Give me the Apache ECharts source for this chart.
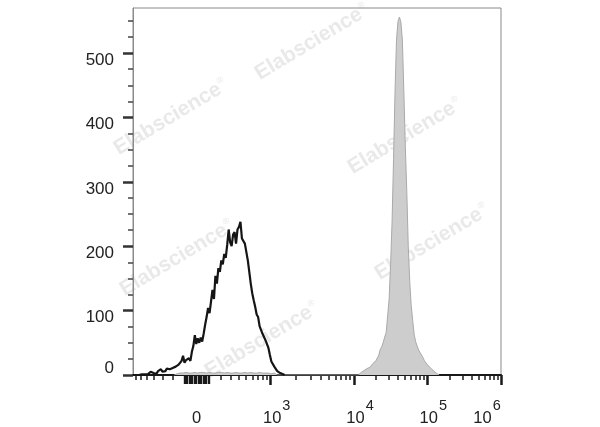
<!DOCTYPE html>
<html><head><meta charset="utf-8">
<script src="https://cdn.jsdelivr.net/npm/echarts@6/dist/echarts.min.js"></script>
<style>html,body{margin:0;padding:0;background:#fff}#c{width:600px;height:427px}</style>
</head><body><div id="c"></div>
<script>
// ---- axis setup (display channels 0..1000 on a logicle-like scale) ----
const xMin = 0, xMax = 1000;
const yMin = 0, yMax = 570;
const yMajorTicks = [0, 100, 200, 300, 400, 500];
const yMinorTicks = [25, 50, 75, 125, 150, 175, 225, 250, 275, 325, 350, 375, 425, 450, 475, 525, 550];
const xLabelValues = [0, 1e3, 1e4, 1e5, 1e6];
const xLabelTexts = ['0', '10^3', '10^4', '10^5', '10^6'];
const xMajorTickValues = [1e3, 1e4, 1e5, 1e6];
const xNearZeroTickValues = [-100, -90, -80, -70, -60, -50, -40, -30, -20, -10, 0, 10, 20, 30, 40, 50, 60, 70, 80, 90, 100];
const xMinorTickValues = [-700, -600, -500, -400, -300, -200, 200, 300, 400, 500, 600, 700, 800, 900,
  2e3, 3e3, 4e3, 5e3, 6e3, 7e3, 8e3, 9e3, 2e4, 3e4, 4e4, 5e4, 6e4, 7e4, 8e4, 9e4,
  2e5, 3e5, 4e5, 5e5, 6e5, 7e5, 8e5, 9e5];
const zeroChannel = 172.6;
const decadeChannels = [374.2, 600.5, 799.7, 1000]; // 10^3 .. 10^6
const linWidth = 300;

// ---- histogram data (counts per bin) ----
const blackStart = 0, blackBin = 4;
const blackCounts = [0,1,0,1,0,2,1,4,1,2, 1,3,5,2,3,4,2,6,4,9, 5,8,6,10,7,9,6,11,9,13,
  10,16,14,22,30,19,23,20,26,22, 36,45,62,48,57,50,58,52,64,78, 90,104,96,114,132,118,154,142,166,160,
  178,172,188,182,202,226,206,200,218,222, 204,226,230,238,212,210,204,205,178,160,
  142,127,116,106,94,90,76,74,64,63, 54,53,42,31,21,19,13,12,6,5, 3,4,1,0];
const grayLowStart = 112, grayLowBin = 8;
const grayLowCounts = [0,2,3,3,4,3,3,4,3,4,4,3,4,3,3,4,4,3,4,3,3,4,3,3,4,3,4,3,3,4,3,3,3,2,3,0];
const grayPeakStart = 612, grayPeakBin = 4;
const grayPeakCounts = [0,2,4,5,7,8,10,9,12,15, 18,17,22,25,31,40,44,51,59,66,
  92,118,172,238,335,440,520,549,556,548, 520,440,355,285,200,145,108,85,63,52,
  45,39,36,31,27,22,19,16,14,11, 9,7,5,3,1,0];

function T(v) {
  const a = decadeChannels[0] - zeroChannel;
  if (Math.abs(v) <= 1000) {
    return zeroChannel + Math.sign(v) * a * Math.asinh(Math.abs(v) / linWidth) / Math.asinh(1000 / linWidth);
  }
  const L = Math.log10(v);
  let k = Math.min(Math.floor(L), 5);
  const i = k - 3;
  return decadeChannels[i] + (decadeChannels[i + 1] - decadeChannels[i]) * (L - k);
}
function toPairs(start, w, arr) { return arr.map((c, i) => [start + i * w, c]); }

const grayData = toPairs(grayLowStart, grayLowBin, grayLowCounts).concat(toPairs(grayPeakStart, grayPeakBin, grayPeakCounts));
const blackData = toPairs(blackStart, blackBin, blackCounts);

const FONT = 'Liberation Sans, Arial, sans-serif';
const TXT = '#222';

function fmtX(val) {
  let best = 0, bd = 1e9;
  xLabelValues.forEach((v, i) => { const d = Math.abs(T(v) - val); if (d < bd) { bd = d; best = i; } });
  const t = xLabelTexts[best];
  if (t.indexOf('^') < 0) return '{z|' + t + '}';
  const parts = t.split('^');
  if (best === xLabelTexts.length - 1) return '{n6|' + parts[0] + '}{s6|' + parts[1] + '}';
  return '{n|' + parts[0] + '}{s|' + parts[1] + '}';
}

const wm = [[171,117],[312,42],[405,136],[177,258],[432,242],[262,340]];

const chart = echarts.init(document.getElementById('c'));
chart.setOption({
  animation: false,
  backgroundColor: '#fff',
  textStyle: { fontFamily: FONT },
  grid: { left: 133, right: 99, top: 8, bottom: 52, show: true, borderColor: '#8a8a8a', borderWidth: 1, backgroundColor: 'transparent' },
  graphic: wm.map(p => ({
    type: 'text', x: p[0], y: p[1], rotation: 31 * Math.PI / 180, z: -10, silent: true,
    style: {
      text: '{a|Elabscience}{r|®}', align: 'center', verticalAlign: 'middle',
      rich: {
        a: { fontSize: 21, fontWeight: 'bold', fontFamily: FONT, fill: '#e9e9e9' },
        r: { fontSize: 9, fontFamily: FONT, fill: '#e9e9e9', verticalAlign: 'top', padding: [0, 0, 12, 1] }
      }
    }
  })),
  xAxis: [
    {
      type: 'value', min: xMin, max: xMax, position: 'bottom',
      axisLine: { show: true, onZero: false, lineStyle: { color: '#1a1a1a', width: 2 } },
      axisTick: { show: true, customValues: xMajorTickValues.map(T), length: 10, lineStyle: { color: '#1a1a1a', width: 2.5 } },
      axisLabel: {
        show: true, customValues: xLabelValues.map(T), margin: 23, formatter: fmtX,
        rich: {
          z: { fontSize: 16.5, color: TXT, fontFamily: FONT, padding: [12, 0, 0, 0] },
          n: { fontSize: 16.5, color: TXT, fontFamily: FONT, padding: [12, 0, 0, 12] },
          s: { fontSize: 14.5, color: TXT, fontFamily: FONT, padding: [0, 0, 13, 1] },
          n6: { fontSize: 16.5, color: TXT, fontFamily: FONT, padding: [12, 0, 0, 0] },
          s6: { fontSize: 14.5, color: TXT, fontFamily: FONT, padding: [0, 28, 13, 1] }
        }
      },
      splitLine: { show: false }
    },
    {
      type: 'value', min: xMin, max: xMax, position: 'bottom',
      axisLine: { show: false },
      axisTick: { show: true, customValues: xMinorTickValues.map(T), length: 5, lineStyle: { color: '#1a1a1a', width: 1.5 } },
      axisLabel: { show: false }, splitLine: { show: false }
    },
    {
      type: 'value', min: xMin, max: xMax, position: 'bottom',
      axisLine: { show: false },
      axisTick: { show: true, customValues: xNearZeroTickValues.map(T), length: 9, lineStyle: { color: '#1a1a1a', width: 1.4 } },
      axisLabel: { show: false }, splitLine: { show: false }
    }
  ],
  yAxis: [
    {
      type: 'value', min: yMin, max: yMax, position: 'left',
      axisLine: { show: true, onZero: false, lineStyle: { color: '#8a8a8a', width: 1 } },
      axisTick: { show: true, customValues: yMajorTicks, length: 10, lineStyle: { color: '#333', width: 2.5 } },
      axisLabel: {
        show: true, customValues: yMajorTicks, margin: 19,
        formatter: v => v === 0 ? '{z|0}' : '{n|' + v + '}',
        rich: {
          n: { fontSize: 17, color: TXT, fontFamily: FONT, padding: [14, 0, 0, 0] },
          z: { fontSize: 17, color: TXT, fontFamily: FONT, padding: [0, 0, 14, 0] }
        }
      },
      splitLine: { show: false }
    },
    {
      type: 'value', min: yMin, max: yMax, position: 'left',
      axisLine: { show: false },
      axisTick: { show: true, customValues: yMinorTicks, length: 5, lineStyle: { color: '#444', width: 1.5 } },
      axisLabel: { show: false }, splitLine: { show: false }
    }
  ],
  series: [
    {
      type: 'line', xAxisIndex: 0, yAxisIndex: 0, data: grayData, showSymbol: false, symbol: 'none',
      lineStyle: { color: '#a9a9a9', width: 1 }, areaStyle: { color: '#cdcdcd', opacity: 1 }, z: 2
    },
    {
      type: 'line', xAxisIndex: 0, yAxisIndex: 0, data: blackData, showSymbol: false, symbol: 'none',
      lineStyle: { color: '#151515', width: 2.2 }, z: 3
    }
  ]
});
</script>
</body></html>
